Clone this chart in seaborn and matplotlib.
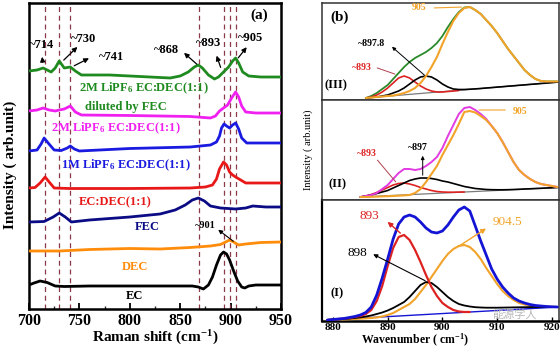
import matplotlib
matplotlib.use("Agg")
import matplotlib.pyplot as plt
import seaborn as sns

# ---------------- data: panel (a) Raman spectra (stacked, arb. units) ----------------
ec_x = [700, 705, 711, 718, 726, 735, 760, 800, 840, 862, 868, 873, 878, 882, 886, 890, 893, 896, 899, 903, 907, 911, 914, 918, 925, 950]
ec_y = [24, 26, 28, 26.5, 23, 22.5, 23, 23, 23, 23, 22, 20, 24, 32, 44, 54, 57, 55, 49, 38, 28, 22, 21, 23, 24, 24]
dec_x = [700, 730, 760, 800, 830, 860, 880, 890, 895, 899, 903, 908, 915, 930, 950]
dec_y = [58, 58, 59.5, 60.5, 60, 61.5, 63, 64.5, 67, 69, 67, 64, 65, 66.5, 67]
fec_x = [700, 715, 724, 730, 736, 742, 760, 800, 830, 845, 855, 862, 868, 874, 880, 890, 905, 915, 922, 935, 950]
fec_y = [87, 87.5, 92, 96, 92, 87, 89, 92, 95, 99, 104, 109, 111, 108, 103, 101, 100, 101, 103, 102, 102]
ecdec_x = [700, 706, 711, 716, 720, 725, 740, 800, 860, 875, 882, 886, 889, 893, 896, 899, 902, 905, 910, 915, 930, 950]
ecdec_y = [121, 121.5, 126, 132, 127, 121, 120.5, 120.5, 121, 122, 124, 130, 140, 147, 144, 137, 134, 132, 129, 126, 126, 126]
m1_x = [700, 708, 712, 715, 719, 725, 732, 738, 741, 745, 750, 800, 860, 880, 886, 889, 891, 893.5, 896, 899, 902, 905, 908, 911, 916, 930, 950]
m1_y = [158, 159, 165, 171, 166, 159, 158.5, 161, 163, 160, 158, 160.5, 162, 164, 167, 173, 181, 185, 183, 181, 184, 186, 180, 171, 166, 166, 166]
m2_x = [700, 708, 714, 720, 726, 730, 735, 741, 746, 752, 800, 860, 880, 885, 889, 893, 897, 901, 905, 908, 911, 915, 925, 950]
m2_y = [198, 199, 201, 199, 198, 199, 200, 203, 197, 194, 193.5, 192.5, 191, 193, 198, 201, 204, 211, 217, 212, 203, 197, 196, 196]
g_x = [700, 708, 714, 722, 726, 730, 735, 741, 746, 752, 780, 820, 840, 850, 858, 864, 868, 872, 878, 884, 888, 893, 898, 902, 905, 908, 912, 918, 930, 950]
g_y = [238, 239, 241, 237, 241, 248, 241, 242, 238, 234, 234, 232, 231, 233, 237, 242, 244, 241, 234, 230, 232, 237, 242, 248, 251, 246, 237, 233, 232, 232]

series_labels = ["EC", "DEC", "FEC", "EC:DEC(1:1)",
                 "1M LiPF$_\\mathbf{6}$ EC:DEC(1:1)",
                 "2M LiPF$_\\mathbf{6}$ EC:DEC(1:1)",
                 "2M LiPF$_\\mathbf{6}$ EC:DEC(1:1)"]
peak_marks = [716, 730, 741, 869, 893, 899, 905]
peak_texts = ["~714", "~730", "~741", "~868", "~893", "~905"]
a_ticks = [700, 750, 800, 850, 900, 950]

# ---------------- data: panel (b) peak fitting ----------------
x3 = list(range(886, 922))
green3 = [2, 4, 7, 11, 15, 21, 27, 33, 38, 42, 45, 48, 52, 57, 64, 73, 81, 88, 92.5, 93,
          90, 86, 80, 74, 67, 59, 51, 44, 37, 30, 25, 21, 19, 18.5, 18.5, 18.5]
orange3 = [2, 2.5, 3, 3.5, 4, 4.5, 5.5, 7, 9, 12, 17, 24, 33, 43, 56, 68, 79, 87, 92, 93,
           90, 86, 80, 74, 67, 59, 51, 44, 37, 30, 25, 21, 19, 18.5, 18.5, 18.5]
red3 = [2, 3, 5, 8, 12, 17, 22, 24, 22, 18, 14, 11, 9, 8, 8, 8.5, 9, 9.5]
black3 = [2, 2.5, 3, 4, 5, 7, 9, 12, 16, 20, 23, 24, 23, 20, 16, 13, 11, 10.5, 10.5, 10.8,
          11.1, 11.5, 12, 12.4, 12.9, 13.3, 13.8, 14.2, 14.7, 15.1, 15.6, 16, 16.5, 16.9, 17.4, 17.9]
base3_x = [886, 921.3]
base3_y = [2, 18]

x2 = list(range(885, 922))
magenta2 = [3, 4, 5, 7, 11, 15, 21, 27, 31, 31, 30, 31, 34, 38, 43, 52, 64, 75, 86, 92,
            93, 90, 86, 81, 74, 67, 58, 48, 38, 30, 25, 21, 18, 16, 15, 14, 13]
orange2 = [3, 3, 3.2, 3.4, 3.6, 3.8, 4, 4.3, 4.6, 5, 7, 11, 18, 26, 34, 45, 55, 65, 76, 88,
           89, 87.5, 84, 80, 74, 67, 58, 48, 38, 30, 25, 21, 18, 16, 15, 14, 13]
red2 = [3, 4, 5.5, 7.5, 10, 12.5, 15, 16.5, 17, 16, 14.5, 12.5, 11, 9.5, 8.5, 8, 7.8, 7.8, 7.9, 8]
black2 = [3, 4, 5, 6.5, 8, 9.5, 12, 14.5, 17, 19.5, 21, 22, 22, 21.5, 20.5, 19, 18, 16.5, 15, 13.5,
          12.5, 11.5, 11, 10.5, 10.3, 10.2, 10.2, 10.3, 10.5, 10.7, 11, 11.2, 11.5, 11.7, 12, 12.2, 12.5]
base2_x = [885, 921.3]
base2_y = [3, 12.5]

x1 = list(range(879, 922))
blue1 = [1, 1.5, 2, 2.5, 3.5, 4.5, 6, 8.5, 14, 26, 43, 62, 82, 97, 104, 106, 104, 99, 93, 89,
         88, 90, 96, 104, 111, 114, 110, 95, 80, 66, 52, 42, 34, 28, 23, 20, 18, 16.5, 15.5, 15,
         14.5, 14.2, 14]
red1 = [1, 1.5, 2, 2.5, 3, 4, 5, 7, 11, 20, 35, 55, 73, 84, 86, 81, 71, 59, 46, 34,
        25, 18, 14, 11, 9.5, 9, 9]
orange1 = [1, 1.2, 1.4, 1.6, 1.8, 2, 2.3, 2.6, 3, 3.5, 4.5, 6, 8, 11, 14, 17, 22, 29, 36, 44,
           52, 60, 67, 72, 75, 76, 74, 69, 62, 53, 45, 37, 30, 25, 21, 18, 16.5, 15.5, 15, 14.5,
           14.3, 14.1, 14]
black1 = [1, 1.3, 1.6, 2, 2.4, 3, 3.6, 4.5, 5.5, 7, 8.5, 10.5, 13, 16, 19, 24, 30, 36, 39, 38,
          34, 29, 24, 20, 17, 15.5, 14.5, 13.8, 13.5, 13.3, 13.3, 13.3, 13.4, 13.5, 13.6, 13.7, 13.8, 13.9, 14, 14,
          14, 14, 14]
base1_x = [879, 921.3]
base1_y = [1, 14]
b_ticks = [880, 890, 900, 910, 920]

# ---------------- style ----------------
sns.set_theme(style="white")
plt.rcParams['font.family'] = ['Liberation Serif', 'DejaVu Serif']
plt.rcParams['mathtext.fontset'] = 'custom'
plt.rcParams['mathtext.rm'] = 'Liberation Serif'
plt.rcParams['mathtext.bf'] = 'Liberation Serif:bold'
plt.rcParams['mathtext.it'] = 'Liberation Serif:italic'

W, H = 560, 349
fig = plt.figure(figsize=(W / 100, H / 100), dpi=100)
fig.patch.set_facecolor('white')

def frac(px_l, py_t, px_r, py_b):
    return [px_l / W, 1 - py_b / H, (px_r - px_l) / W, (py_b - py_t) / H]

def line(ax, x, y, color, lw, z=3):
    sns.lineplot(x=x, y=y, ax=ax, color=color, linewidth=lw, estimator=None,
                 sort=False, legend=False, zorder=z)

# ---------------- panel (a) ----------------
axA = fig.add_axes(frac(29, 3, 281, 309))
for xv in peak_marks:
    axA.axvline(xv, color='#8b3a4a', ls=(0, (4, 3)), lw=0.9, zorder=1)

c_ec, c_dec, c_fec, c_red, c_blue, c_mag, c_grn = ('black', '#ff8c0a', '#0b0b85', '#e81818',
                                                    '#1a1ae0', '#f020f0', '#1f8a1f')
for xs, ys, c in [(ec_x, ec_y, c_ec), (dec_x, dec_y, c_dec), (fec_x, fec_y, c_fec),
                  (ecdec_x, ecdec_y, c_red), (m1_x, m1_y, c_blue), (m2_x, m2_y, c_mag),
                  (g_x, g_y, c_grn)]:
    line(axA, xs, ys, c, 2.0)

axA.set_xlim(700, 950)
axA.set_ylim(0, 306)
axA.set_yticks([])
axA.set_xticks(a_ticks)
axA.set_xticks([725, 775, 825, 875, 925], minor=True)
axA.tick_params(axis='x', which='major', direction='in', length=4, width=1.3, pad=3,
                labelsize=11.5, bottom=True, colors='black')
axA.tick_params(axis='x', which='minor', direction='in', length=2.5, width=1.0, bottom=True)
for lab in axA.get_xticklabels():
    lab.set_fontweight('bold')
for s in axA.spines.values():
    s.set_linewidth(1.8)
    s.set_color('black')
fig.text(155 / W, 1 - 338 / H, "Raman shift (cm$^{\\mathbf{-1}}$)", ha='center', va='center',
         fontsize=11, fontweight='bold', color='black')
fig.text(10 / W, 1 - 165 / H, "Intensity ( arb.unit)", rotation=90, ha='center', va='center',
         fontsize=11, fontweight='bold', color='black')

lab_pos = [(805, 13), (805, 42), (817, 82), (785, 107), (796, 144), (786, 181), (814, 221)]
lab_col = [c_ec, c_dec, c_fec, c_red, c_blue, c_mag, c_grn]
for t, (x, y), c in zip(series_labels, lab_pos, lab_col):
    axA.text(x, y, t, color=c, fontsize=9, fontweight='bold', ha='center', va='center', zorder=4)
axA.text(796, 202, "diluted by FEC", color=c_grn, fontsize=9, fontweight='bold',
         ha='center', va='center', zorder=4)

txt_pos = [(712, 264), (754, 270), (782, 252), (836, 259), (878, 266), (920, 271)]
arr_tail = [(713.8, 244), (732.5, 247), (742.4, 242), (868.5, 243), (891, 239), (905.9, 249)]
arr_head = [(712.8, 255), (750, 264), (762, 252), (851.7, 258), (885.2, 256), (917.7, 264)]
for t, p, tl, hd in zip(peak_texts, txt_pos, arr_tail, arr_head):
    axA.text(p[0], p[1], t, fontsize=9, fontweight='bold', ha='center', va='center', color='black')
    axA.annotate('', xy=hd, xytext=tl,
                 arrowprops=dict(arrowstyle='-|>', color='black', lw=0.9, mutation_scale=7))
axA.text(875, 84, "~901", fontsize=7.5, fontweight='bold', ha='center', va='center', color='black')
axA.annotate('', xy=(885.5, 81), xytext=(904.9, 66),
             arrowprops=dict(arrowstyle='-|>', color='black', lw=0.8, mutation_scale=6))
axA.text(928.6, 294, "(a)", fontsize=11, fontweight='bold', ha='center', va='center', color='black')

# ---------------- panel (b) ----------------
c_or, c_rd, c_gr, c_mg, c_bl = '#f2a32a', '#dd2222', '#2a8a2a', '#e23be2', '#1414d4'

ax3 = fig.add_axes(frac(322, 3, 559, 100))
ax2 = fig.add_axes(frac(322, 100, 559, 200))
ax1 = fig.add_axes(frac(322, 200, 559, 321))

# (III)
line(ax3, base3_x, base3_y, '#7a7a7a', 0.9, 2)
line(ax3, x3, green3, c_gr, 1.3)
line(ax3, x3[:len(red3)], red3, c_rd, 1.2)
line(ax3, x3, black3, 'black', 1.2)
line(ax3, x3, orange3, c_or, 1.5)
ax3.set_ylim(0, 97)
ax3.text(895.8, 92, "905", color=c_or, fontsize=7, fontweight='bold', ha='center', va='center')
ax3.annotate('', xy=(904, 93), xytext=(898, 92),
             arrowprops=dict(arrowstyle='-', color=c_or, lw=0.8))
ax3.text(887.1, 57, "~897.8", color='black', fontsize=7, fontweight='bold', ha='center', va='center')
ax3.annotate('', xy=(890.4, 55), xytext=(897.1, 23),
             arrowprops=dict(arrowstyle='-|>', color='black', lw=0.7, mutation_scale=5))
ax3.text(885.3, 33, "~893", color=c_rd, fontsize=7, fontweight='bold', ha='center', va='center')
ax3.annotate('', xy=(891.8, 25), xytext=(887.6, 33),
             arrowprops=dict(arrowstyle='-', color='#b04050', lw=0.7))
ax3.text(880.6, 15, "(III)", fontsize=9, fontweight='bold', ha='center', va='center', color='black')
ax3.text(881.3, 83, "(b)", fontsize=11, fontweight='bold', ha='center', va='center', color='black')

# (II)
line(ax2, base2_x, base2_y, '#7a7a7a', 0.9, 2)
line(ax2, x2[:len(red2)], red2, c_rd, 1.2)
line(ax2, x2, black2, 'black', 1.2)
line(ax2, x2, magenta2, c_mg, 1.4)
line(ax2, x2, orange2, c_or, 1.5)
ax2.set_ylim(0, 100)
ax2.text(914.2, 89, "905", color=c_or, fontsize=7, fontweight='bold', ha='center', va='center')
ax2.annotate('', xy=(912, 90), xytext=(906.2, 90),
             arrowprops=dict(arrowstyle='-', color=c_or, lw=0.8))
ax2.text(895.6, 52, "~897", color='black', fontsize=7, fontweight='bold', ha='center', va='center')
ax2.annotate('', xy=(896.4, 47), xytext=(896.4, 22),
             arrowprops=dict(arrowstyle='-|>', color='black', lw=0.7, mutation_scale=5))
ax2.text(886.2, 47, "~893", color=c_rd, fontsize=7, fontweight='bold', ha='center', va='center')
ax2.annotate('', xy=(891.8, 16), xytext=(887.8, 42),
             arrowprops=dict(arrowstyle='-', color='#b04050', lw=0.7))
ax2.text(880.9, 16, "(II)", fontsize=9, fontweight='bold', ha='center', va='center', color='black')

# (I)
line(ax1, base1_x, base1_y, c_bl, 1.0, 2)
line(ax1, x1, orange1, c_or, 1.5)
line(ax1, x1, black1, 'black', 1.3)
line(ax1, x1[:len(red1)], red1, c_rd, 1.6)
line(ax1, x1, blue1, c_bl, 2.0)
ax1.set_ylim(0, 121)
ax1.text(886.7, 105, "893", color=c_rd, fontsize=9.5, ha='center', va='center')
ax1.annotate('', xy=(889.6, 101), xytext=(892.7, 86),
             arrowprops=dict(arrowstyle='-|>', color=c_rd, lw=1.0, mutation_scale=7))
ax1.text(911.8, 99, "904.5", color=c_or, fontsize=9.5, ha='center', va='center')
ax1.annotate('', xy=(908.4, 94), xytext=(902.5, 73),
             arrowprops=dict(arrowstyle='-|>', color=c_or, lw=1.0, mutation_scale=7))
ax1.text(884.4, 68, "898", color='black', fontsize=9.5, ha='center', va='center')
ax1.annotate('', xy=(886.9, 68), xytext=(897.3, 39),
             arrowprops=dict(arrowstyle='-|>', color='black', lw=0.8, mutation_scale=6))
ax1.text(880.7, 28, "(I)", fontsize=9, fontweight='bold', ha='center', va='center', color='black')

for ax in (ax3, ax2, ax1):
    ax.set_xlim(878, 921.3)
    ax.set_yticks([])
    for s in ax.spines.values():
        s.set_linewidth(1.1)
        s.set_color('#333333')
for ax in (ax3, ax2):
    ax.set_xticks([])
ax1.set_xticks(b_ticks)
ax1.tick_params(axis='x', direction='in', length=3, width=1.0, pad=1.5, labelsize=8,
                bottom=True, colors='black')
for lab in ax1.get_xticklabels():
    lab.set_fontweight('bold')
ax1.spines['bottom'].set_linewidth(1.8)
ax1.spines['bottom'].set_color('black')
ax1.spines['left'].set_linewidth(1.6)
ax1.spines['left'].set_color('black')

fig.text(415 / W, 1 - 340.5 / H, "Wavenumber ( cm$^{\\mathbf{-1}}$)", ha='center', va='center',
         fontsize=8.5, fontweight='bold', color='black')
fig.text(308 / W, 1 - 150 / H, "Intensity ( arb.unit)", rotation=90, ha='center', va='center',
         fontsize=7.5, color='black')
fig.text(515 / W, 1 - 314 / H, "能源学人", ha='center', va='center', fontsize=8,
         color='#b8b8b8', family=['Noto Sans CJK SC', 'DejaVu Sans'])

fig.savefig("out.png", dpi=100, facecolor='white')
